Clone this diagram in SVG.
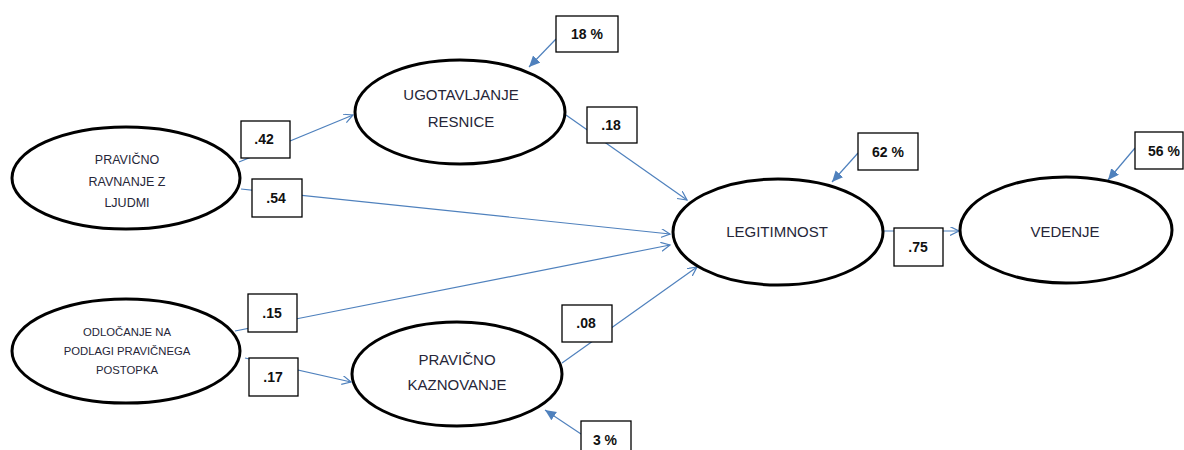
<svg xmlns="http://www.w3.org/2000/svg" width="1184" height="450" viewBox="0 0 1184 450">
  <defs>
    <marker id="open" markerUnits="userSpaceOnUse" markerWidth="12" markerHeight="12" refX="9" refY="4.5" orient="auto">
      <path d="M0,0 L9,4.5 L0,9" fill="none" stroke="#4f81bd" stroke-width="1.2"/>
    </marker>
    <marker id="solid" markerUnits="userSpaceOnUse" markerWidth="14" markerHeight="12" refX="11" refY="5" orient="auto">
      <path d="M0,0 L11,5 L0,10 Z" fill="#4f81bd"/>
    </marker>
  </defs>
  <style>
    .edge { fill: none; stroke: #4f81bd; stroke-width: 1.2; }
    .path { marker-end: url(#open); }
    .resid { marker-end: url(#solid); }
    .node { fill: #ffffff; stroke: #000000; stroke-width: 3; }
    .lbl { font-family: "Liberation Sans", Arial, sans-serif; fill: #262638; text-anchor: middle; }
    .box { fill: #ffffff; stroke: #000000; stroke-width: 1.3; }
    .num { font-family: "Liberation Sans", Arial, sans-serif; font-weight: bold; font-size: 14px; fill: #111111; text-anchor: middle; }
  </style>
  <rect width="1184" height="450" fill="#ffffff"/>

  <!-- path arrows and residual arrows -->
  <g id="connectors">
    <path class="edge path" d="M239,162 L353,115"/>
    <path class="edge path" d="M241,189 L670,234"/>
    <path class="edge path" d="M566,115 L687,200"/>
    <path class="edge path" d="M235,331 L670,245"/>
    <path class="edge path" d="M562,363 L697,267"/>
    <path class="edge path" d="M245,358 L351,382"/>
    <path class="edge path" d="M883,231 L959,231"/>
    <path class="edge resid" d="M556,39 L529,67"/>
    <path class="edge resid" d="M858,153 L832,182"/>
    <path class="edge resid" d="M1135,148 L1108,180"/>
    <path class="edge resid" d="M581,434 L545,410"/>
  </g>

  <g id="ravnanje">
    <ellipse class="node" cx="126" cy="178" rx="114" ry="51"/>
    <text class="lbl" font-size="12.5" x="127" y="164">PRAVIČNO</text>
    <text class="lbl" font-size="12.5" x="127" y="186">RAVNANJE Z</text>
    <text class="lbl" font-size="12.5" x="127" y="207">LJUDMI</text>
  </g>

  <g id="odlocanje">
    <ellipse class="node" cx="126" cy="351" rx="114" ry="52"/>
    <text class="lbl" font-size="11.3" x="127" y="336">ODLOČANJE NA</text>
    <text class="lbl" font-size="11.3" x="127" y="355">PODLAGI PRAVIČNEGA</text>
    <text class="lbl" font-size="11.3" x="127" y="374">POSTOPKA</text>
  </g>

  <g id="resnica">
    <ellipse class="node" cx="460" cy="112" rx="105" ry="52"/>
    <text class="lbl" font-size="15" x="461" y="100">UGOTAVLJANJE</text>
    <text class="lbl" font-size="15" x="461" y="127">RESNICE</text>
  </g>

  <g id="kaznovanje">
    <ellipse class="node" cx="457" cy="374" rx="105" ry="52"/>
    <text class="lbl" font-size="15" x="457" y="365">PRAVIČNO</text>
    <text class="lbl" font-size="15" x="457" y="390">KAZNOVANJE</text>
  </g>

  <g id="legitimnost">
    <ellipse class="node" cx="778" cy="232" rx="105" ry="53"/>
    <text class="lbl" font-size="15" x="777" y="237">LEGITIMNOST</text>
  </g>

  <g id="vedenje">
    <ellipse class="node" cx="1066" cy="230" rx="106" ry="53"/>
    <text class="lbl" font-size="15" x="1065" y="237">VEDENJE</text>
  </g>

  <!-- coefficient boxes -->
  <g id="coef-42"><rect class="box" x="241" y="121" width="49" height="37"/><text class="num" x="264" y="144">.42</text></g>
  <g id="coef-54"><rect class="box" x="252" y="179" width="50" height="38"/><text class="num" x="276" y="203">.54</text></g>
  <g id="coef-15"><rect class="box" x="248" y="294" width="49" height="38"/><text class="num" x="272" y="318">.15</text></g>
  <g id="coef-17"><rect class="box" x="249" y="358" width="49" height="38"/><text class="num" x="273" y="382">.17</text></g>
  <g id="coef-18"><rect class="box" x="587" y="107" width="50" height="36"/><text class="num" x="611" y="130">.18</text></g>
  <g id="coef-08"><rect class="box" x="562" y="305" width="50" height="37"/><text class="num" x="586" y="328">.08</text></g>
  <g id="coef-75"><rect class="box" x="894" y="228" width="49" height="38"/><text class="num" x="918" y="252">.75</text></g>

  <!-- explained variance boxes -->
  <g id="r2-resnica"><rect class="box" x="556" y="16" width="62" height="36"/><text class="num" x="587" y="39">18 %</text></g>
  <g id="r2-legitimnost"><rect class="box" x="858" y="133" width="60" height="37"/><text class="num" x="888" y="157">62 %</text></g>
  <g id="r2-vedenje"><rect class="box" x="1135" y="132" width="48" height="37"/><text class="num" x="1164" y="156">56 %</text></g>
  <g id="r2-kaznovanje"><rect class="box" x="581" y="421" width="50" height="38"/><text class="num" x="605" y="445">3 %</text></g>
</svg>
